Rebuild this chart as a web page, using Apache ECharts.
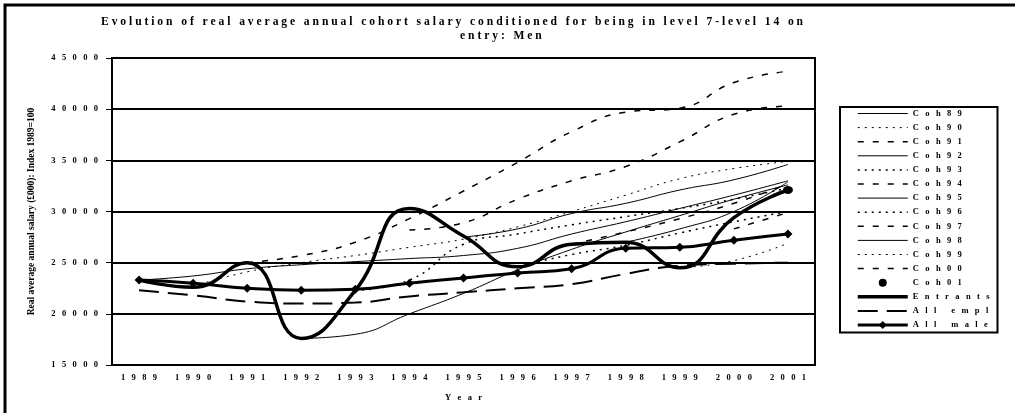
<!DOCTYPE html>
<html>
<head>
<meta charset="utf-8">
<script src="https://cdn.jsdelivr.net/npm/echarts@6/dist/echarts.min.js"></script>
<style>
  html, body { margin: 0; padding: 0; background: #fff; }
  #chart { width: 1015px; height: 413px; }
</style>
</head>
<body>
<div id="chart"></div>
<script>
// data
const years = ['1989', '1990', '1991', '1992', '1993', '1994', '1995', '1996', '1997', '1998', '1999', '2000', '2001']
const coh89 = [23300, 23700, 24400, 24800, 25100, 25400, 25700, 26400, 27800, 29000, 30300, 31600, 33000]
const coh90 = [null, 22700, 24100, 25000, 25700, 26500, 27300, 28500, 30000, 31600, 33200, 34200, 34900]
const coh91 = [null, null, 25000, 25700, 27000, 29300, 32000, 34800, 37800, 39700, 40100, 42600, 43700]
const coh92 = [null, null, null, 17600, 18000, 20000, 22000, 24300, 26300, 28000, 29600, 31200, 32600]
const coh93 = [null, null, null, null, 22300, 23300, 26800, 27800, 28700, 29500, 30300, 31200, 32300]
const coh94 = [null, null, null, null, null, 28200, 28900, 31200, 33000, 34400, 36800, 39500, 40300]
const coh95 = [null, null, null, null, null, null, 27500, 28300, 29800, 30800, 32100, 33100, 34600]
const coh96 = [null, null, null, null, null, null, null, 24600, 25800, 26700, 27900, 29000, 30000]
const coh97 = [null, null, null, null, null, null, null, null, 26800, 28000, 29300, 30800, 32700]
const coh98 = [null, null, null, null, null, null, null, null, null, 27000, 28300, 30000, 32900]
const coh99 = [null, null, null, null, null, null, null, null, null, null, 24500, 25200, 26900]
const coh00 = [null, null, null, null, null, null, null, null, null, null, null, 28300, 29900]
const coh01 = [null, null, null, null, null, null, null, null, null, null, null, null, 32100]
const entrants = [23300, 22600, 25000, 17600, 22300, 30300, 27600, 24600, 26800, 27000, 24500, 29400, 32100]
const allEmpl = [22300, 21800, 21200, 21000, 21100, 21700, 22100, 22500, 22900, 23900, 24700, 24900, 25000]
const allMale = [23300, 23000, 22500, 22300, 22400, 23000, 23500, 24000, 24400, 26400, 26500, 27200, 27800]

const serif = 'Liberation Serif'
// the original prints its labels letter-spaced
function spread(s, n) {
  return String(s).split('').join(' '.repeat(n))
}

const SOLID = 'solid'
const FINE = [2, 5]
const DOT = [2, 5]
const DASH = [6, 9]

function coh(name, data, type, width) {
  return {
    name: name,
    type: 'line',
    data: data,
    smooth: true,
    symbol: 'none',
    connectNulls: false,
    lineStyle: { color: '#000', width: width, type: type },
    itemStyle: { color: '#000' },
    z: 2
  }
}

// legend entries: only All male and Coh01 show a marker
const noMark = { color: 'rgba(0,0,0,0)', borderWidth: 0 }
const legendNames = ['Coh89', 'Coh90', 'Coh91', 'Coh92', 'Coh93', 'Coh94', 'Coh95', 'Coh96', 'Coh97',
  'Coh98', 'Coh99', 'Coh00', 'Coh01', 'Entrants', 'All empl', 'All male']
const legendData = legendNames.map(function (n) {
  if (n === 'Coh01' || n === 'All male') return { name: n }
  return { name: n, itemStyle: noMark }
})

const chart = echarts.init(document.getElementById('chart'), null, { renderer: 'canvas' })
chart.setOption({
  animation: false,
  backgroundColor: '#fff',
  title: [
    {
      text: spread('Evolution of real average annual cohort salary conditioned for being in level 7-level 14 on', 1),
      left: 96,
      top: 11,
      textStyle: { fontFamily: serif, fontWeight: 'bold', fontSize: 11.6, color: '#000' }
    },
    {
      text: spread('entry: Men', 1),
      left: 455,
      top: 25,
      textStyle: { fontFamily: serif, fontWeight: 'bold', fontSize: 11.6, color: '#000' }
    }
  ],
  graphic: [
    {
      type: 'rect',
      shape: { x: 5, y: 5, width: 1030, height: 430 },
      style: { fill: 'none', stroke: '#000', lineWidth: 3 },
      silent: true
    }
  ],
  grid: {
    left: 112,
    right: 200,
    top: 58,
    bottom: 48,
    show: true,
    borderColor: '#000',
    borderWidth: 2
  },
  legend: {
    orient: 'vertical',
    left: 840,
    top: 107,
    itemWidth: 50,
    itemHeight: 10,
    itemGap: 5.1,
    padding: [2, 8, 3, 16],
    borderColor: '#000',
    borderWidth: 2,
    backgroundColor: '#fff',
    lineStyle: { width: 'inherit' },
    formatter: function (name) { return spread(name, 3) },
    textStyle: { fontFamily: serif, fontWeight: 'bold', fontSize: 8.5, color: '#000' },
    data: legendData
  },
  xAxis: {
    type: 'category',
    data: years,
    boundaryGap: true,
    name: spread('Year', 3),
    nameLocation: 'middle',
    nameGap: 28,
    nameTextStyle: { fontFamily: serif, fontWeight: 'bold', fontSize: 8.5, color: '#000' },
    axisLine: { lineStyle: { color: '#000', width: 2 } },
    axisTick: { interval: 0, length: 3, lineStyle: { color: '#000', width: 1 } },
    axisLabel: {
      margin: 8,
      fontFamily: serif,
      fontWeight: 'bold',
      fontSize: 8.5,
      color: '#000',
      formatter: function (v) { return spread(v, 3) }
    }
  },
  yAxis: {
    type: 'value',
    min: 15000,
    max: 45000,
    interval: 5000,
    name: 'Real average annual salary (£000): Index 1989=100',
    nameLocation: 'middle',
    nameRotate: 90,
    nameGap: 75,
    nameTextStyle: { fontFamily: serif, fontWeight: 'bold', fontSize: 9.5, color: '#000' },
    axisLine: { show: true, lineStyle: { color: '#000', width: 2 } },
    axisTick: { show: true, length: 6, lineStyle: { color: '#000', width: 1 } },
    splitLine: { lineStyle: { color: '#000', width: 2 } },
    axisLabel: {
      margin: 14,
      fontFamily: serif,
      fontWeight: 'bold',
      fontSize: 8.5,
      color: '#000',
      formatter: function (v) { return spread(v, 3) }
    }
  },
  series: [
    coh('Coh89', coh89, SOLID, 1),
    coh('Coh90', coh90, FINE, 1),
    coh('Coh91', coh91, DASH, 1.5),
    coh('Coh92', coh92, SOLID, 1),
    coh('Coh93', coh93, DOT, 1.5),
    coh('Coh94', coh94, DASH, 1.5),
    coh('Coh95', coh95, SOLID, 1),
    coh('Coh96', coh96, DOT, 1.5),
    coh('Coh97', coh97, DASH, 1.5),
    coh('Coh98', coh98, SOLID, 1),
    coh('Coh99', coh99, FINE, 1),
    coh('Coh00', coh00, DASH, 1.5),
    {
      name: 'Coh01',
      type: 'line',
      data: coh01,
      symbol: 'circle',
      symbolSize: [10, 8],
      showSymbol: true,
      lineStyle: { width: 0 },
      itemStyle: { color: '#000' },
      z: 4
    },
    {
      name: 'Entrants',
      type: 'line',
      data: entrants,
      smooth: true,
      symbol: 'none',
      lineStyle: { color: '#000', width: 3.5 },
      itemStyle: { color: '#000' },
      z: 3
    },
    {
      name: 'All empl',
      type: 'line',
      data: allEmpl,
      smooth: true,
      symbol: 'none',
      lineStyle: { color: '#000', width: 2, type: [20, 9] },
      itemStyle: { color: '#000' },
      z: 3
    },
    {
      name: 'All male',
      type: 'line',
      data: allMale,
      smooth: true,
      symbol: 'diamond',
      symbolSize: 9,
      showSymbol: true,
      lineStyle: { color: '#000', width: 3 },
      itemStyle: { color: '#000' },
      z: 3
    }
  ]
})
</script>
</body>
</html>
